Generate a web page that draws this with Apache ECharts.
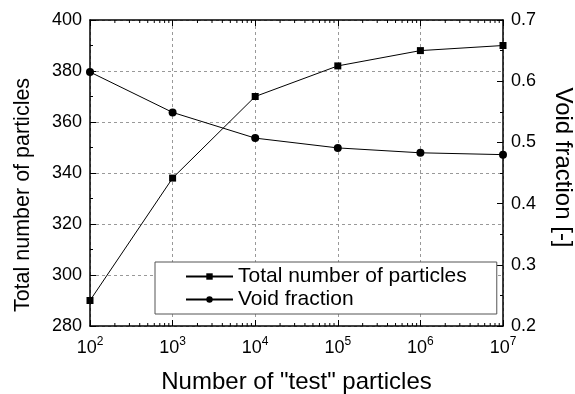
<!DOCTYPE html>
<html>
<head>
<meta charset="utf-8">
<script src="https://cdn.jsdelivr.net/npm/echarts@6/dist/echarts.min.js"></script>
<style>
  html, body { margin: 0; padding: 0; background: #fff; }
  #chart { width: 575px; height: 394px; }
</style>
</head>
<body>
<div id="chart"></div>
<script>
const testParticles = [1e2, 1e3, 1e4, 1e5, 1e6, 1e7];
const totalParticles = [290, 338, 370, 382, 388, 390];
const voidFraction = [0.615, 0.549, 0.507, 0.491, 0.483, 0.480];

// minor tick positions for the log axis (2..9 in every decade)
const minorX = [];
for (let d = 1e2; d < 1e7; d *= 10) {
  for (let k = 2; k <= 9; k++) minorX.push(d * k);
}

const font = "Liberation Sans, Arial, sans-serif";
const chart = echarts.init(document.getElementById("chart"));

const option = {
  animation: false,
  backgroundColor: "#fff",
  textStyle: { fontFamily: font, color: "#000" },
  grid: { left: 90, right: 72, top: 20, bottom: 68, outerBoundsMode: "none", containLabel: false },
  legend: {
    data: ["Total number of particles", "Void fraction"],
    orient: "vertical",
    left: 155,
    top: 262,
    padding: [4, 30, 4, 30],
    itemGap: 2,
    itemWidth: 47,
    itemHeight: 8,
    backgroundColor: "#fff",
    borderColor: "#555",
    borderWidth: 1,
    borderRadius: 0,
    textStyle: { fontSize: 21, fontFamily: font, color: "#000" }
  },
  xAxis: [
    {
      type: "log",
      min: 1e2,
      max: 1e7,
      logBase: 10,
      name: 'Number of "test" particles',
      nameLocation: "middle",
      nameGap: 44,
      nameTextStyle: { fontSize: 24, fontFamily: font, color: "#000" },
      axisLine: { lineStyle: { color: "#000", width: 1.5 } },
      axisTick: { inside: true, length: 6, lineStyle: { color: "#000" } },
      splitLine: { show: true, lineStyle: { color: "#999", type: [3, 3], width: 1 } },
      axisLabel: {
        margin: 10,
        formatter: v => "10{sup|" + Math.round(Math.log10(v)) + "}",
        rich: {
          sup: { fontSize: 12, fontFamily: font, color: "#000", padding: [0, 0, 12, 0] }
        },
        fontSize: 18,
        color: "#000"
      }
    },
    {
      type: "log",
      min: 1e2,
      max: 1e7,
      position: "top",
      axisLine: { lineStyle: { color: "#000", width: 1.5 } },
      axisTick: { inside: true, length: 6, lineStyle: { color: "#000" } },
      axisLabel: { show: false },
      splitLine: { show: false }
    }
  ],
  yAxis: [
    {
      type: "value",
      min: 280,
      max: 400,
      interval: 20,
      name: "Total number of particles",
      nameLocation: "middle",
      nameGap: 56,
      nameTextStyle: { fontSize: 21.5, fontFamily: font, color: "#000", padding: [0, 44, 0, 0] },
      axisLine: { show: true, lineStyle: { color: "#000", width: 1.5 } },
      axisTick: { show: true, inside: true, length: 6, lineStyle: { color: "#000" } },
      minorTick: { show: true, splitNumber: 2, length: 3, lineStyle: { color: "#000" } },
      splitLine: { show: true, lineStyle: { color: "#999", type: [3, 3], width: 1 } },
      axisLabel: { fontSize: 18, color: "#000", margin: 8 }
    },
    {
      type: "value",
      min: 0.2,
      max: 0.7,
      interval: 0.1,
      position: "right",
      name: "Void fraction [-]",
      nameLocation: "middle",
      nameGap: 48,
      nameRotate: -90,
      nameTextStyle: { fontSize: 24, fontFamily: font, color: "#000", padding: [0, 11, 0, 0] },
      axisLine: { show: true, lineStyle: { color: "#000", width: 1.5 } },
      axisTick: { show: true, inside: true, length: 6, lineStyle: { color: "#000" } },
      minorTick: { show: true, splitNumber: 2, length: 3, lineStyle: { color: "#000" } },
      splitLine: { show: false },
      axisLabel: { fontSize: 18, color: "#000", margin: 8, formatter: v => v.toFixed(1) }
    }
  ],
  series: [
    {
      name: "Total number of particles",
      type: "line",
      xAxisIndex: 0,
      yAxisIndex: 0,
      data: testParticles.map((x, i) => [x, totalParticles[i]]),
      symbol: "rect",
      symbolSize: 7,
      itemStyle: { color: "#000" },
      lineStyle: { color: "#000", width: 1 },
      z: 3
    },
    {
      name: "Void fraction",
      type: "line",
      xAxisIndex: 0,
      yAxisIndex: 1,
      data: testParticles.map((x, i) => [x, voidFraction[i]]),
      symbol: "circle",
      symbolSize: 8,
      itemStyle: { color: "#000" },
      lineStyle: { color: "#000", width: 1 },
      z: 3
    },
    {
      name: "minorTicks",
      type: "custom",
      xAxisIndex: 0,
      yAxisIndex: 0,
      silent: true,
      clip: false,
      data: minorX.map(v => [v]),
      encode: { x: 0 },
      renderItem: (params, api) => {
        const v = api.value(0);
        const b = api.coord([v, 280]);
        const t = api.coord([v, 400]);
        return {
          type: "group",
          children: [
            { type: "line", shape: { x1: b[0], y1: b[1], x2: b[0], y2: b[1] - 3 }, style: { stroke: "#000", lineWidth: 1 } },
            { type: "line", shape: { x1: t[0], y1: t[1], x2: t[0], y2: t[1] + 3 }, style: { stroke: "#000", lineWidth: 1 } }
          ]
        };
      }
    }
  ]
};

chart.setOption(option);
</script>
</body>
</html>
